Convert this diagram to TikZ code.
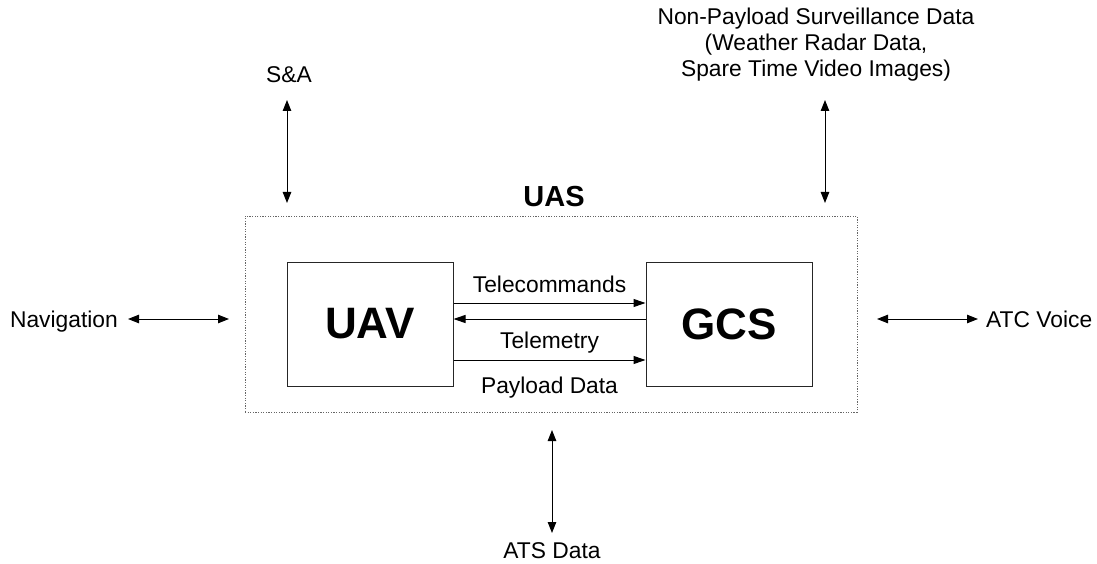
\documentclass[tikz,border=0pt]{standalone}
\usepackage{fontspec}
\setmainfont{Liberation Sans}
\usetikzlibrary{arrows.meta}
\begin{document}
\begin{tikzpicture}[x=1pt,y=-1pt,
  txt/.style={font=\fontsize{22.8}{26}\selectfont, inner sep=0pt, anchor=base},
  block/.style={draw=black!85, line width=1pt, minimum width=166pt, minimum height=124pt,
    inner sep=0pt, font=\fontsize{44}{48}\selectfont\bfseries},
  system/.style={draw=black!60, line width=1pt, dash pattern=on 1.2pt off 1.4pt,
    minimum width=612pt, minimum height=196pt, inner sep=0pt},
  link/.style={line width=1pt, -{Triangle[length=12pt,width=8pt]}},
  both/.style={line width=1pt, {Triangle[length=11pt,width=8.5pt]}-{Triangle[length=11pt,width=8.5pt]}}
]
\path[use as bounding box] (0,0) rectangle (1097,564);

% system boundary and its two blocks
\node[system] (uas) at (551,314) {};
\node[txt, font=\fontsize{29}{32}\selectfont\bfseries] (uaslbl) at (554,207) {UAS};
\node[block] (uav) at (370,324) {UAV};
\node[block] (gcs) at (729,324) {GCS};

% internal links
\draw[link] ([yshift=21pt]uav.east) -- ([yshift=21pt]gcs.west);
\draw[link] ([yshift=5pt]gcs.west) -- ([yshift=5pt]uav.east);
\draw[link] ([yshift=-36pt]uav.east) -- ([yshift=-36pt]gcs.west);
\node[txt] (tc) at (549.5,292) {Telecommands};
\node[txt] (tm) at (549.5,348) {Telemetry};
\node[txt] (pd) at (549.5,393) {Payload Data};

% external interfaces
\node[txt, anchor=base east] (nav) at (118,327) {Navigation};
\node[txt, anchor=base west] (atc) at (986,327) {ATC Voice};
\node[txt] (sa) at (289,83) {S\&A};
\node[txt] (ats) at (552,558) {ATS Data};
\node[txt, align=center] (np) at (816,77)
  {Non-Payload Surveillance Data\\(Weather Radar Data,\\Spare Time Video Images)};

\coordinate (navA) at (128,319);
\coordinate (navB) at (229,319);
\coordinate (atcA) at (877,319);
\coordinate (atcB) at (978,319);
\coordinate (saA) at (287,100);
\coordinate (saB) at (287,203);
\coordinate (npA) at (825,100);
\coordinate (npB) at (825,203);
\coordinate (atsA) at (552,430);
\coordinate (atsB) at (552,533);

\draw[both] (navA) -- (navB);
\draw[both] (atcA) -- (atcB);
\draw[both] (saA) -- (saB);
\draw[both] (npA) -- (npB);
\draw[both] (atsA) -- (atsB);
\end{tikzpicture}
\end{document}
